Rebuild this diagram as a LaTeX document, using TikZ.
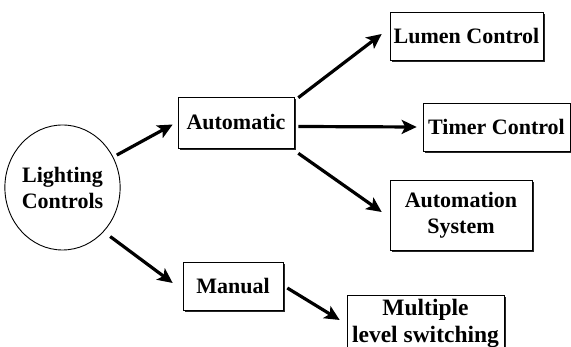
\documentclass[tikz,border=0pt]{standalone}
\usepackage{fontspec}
\setmainfont{Liberation Serif}
\usepackage{tikz}
\usetikzlibrary{arrows.meta,shapes.geometric,shadows}

\begin{document}
\begin{tikzpicture}[x=1pt, y=1pt,
    every node/.style={font=\fontsize{22}{26}\selectfont\bfseries, align=center},
    ctrlbox/.style={draw, rectangle, line width=0.6pt, fill=white, inner sep=2pt,
        drop shadow={shadow xshift=1.6pt, shadow yshift=-1.6pt, fill=black, opacity=0.85}},
    flow/.style={-{Stealth[length=15pt, width=14pt, inset=3.5pt]}, line width=3.2pt}]
                \useasboundingbox (0,0) rectangle (571,347);

                % Root ellipse
                \node[draw, ellipse, line width=0.9pt, minimum width=105pt, minimum height=125pt, inner sep=0pt] (root) at (62.5,159.5) {Lighting\\Controls};

                % Second level
                \node[ctrlbox, minimum width=116pt, minimum height=51pt] (auto) at (236,224.5) {Automatic};
                \node[ctrlbox, minimum width=100pt, minimum height=48pt] (manual) at (233,61) {Manual};

                % Automatic branches
                \node[ctrlbox, minimum width=153pt, minimum height=48pt] (lumen) at (466.5,311) {Lumen Control};
                \node[ctrlbox, minimum width=147pt, minimum height=48pt] (timer) at (496.5,220) {Timer Control};
                \node[ctrlbox, minimum width=142pt, minimum height=70pt] (autosys) at (461,132) {Automation\\System};

                % Manual branch
                \node[ctrlbox, minimum width=157pt, minimum height=56pt, font=\fontsize{23.5}{27}\selectfont\bfseries] (multi) at (425.5,24) {Multiple\\level switching};

                % Arrows
                \draw[flow, shorten <=4pt] (root.31) -- ([xshift=-5pt, yshift=-2pt]auto.west);
                \draw[flow, shorten <=8pt] (root.-47) -- ([xshift=-10pt, yshift=3pt]manual.west);
                \draw[flow] ([xshift=4pt, yshift=-1pt]auto.north east) -- ([xshift=-8pt, yshift=2pt]lumen.west);
                \draw[flow] ([xshift=4pt, yshift=-4pt]auto.east) -- ([xshift=-6pt]timer.west);
                \draw[flow] ([xshift=4pt, yshift=-5pt]auto.south east) -- ([xshift=-8pt, yshift=3pt]autosys.west);
                \draw[flow] ([xshift=4pt, yshift=-2pt]manual.east) -- ([xshift=-7pt, yshift=3pt]multi.west);
            \end{tikzpicture}
\end{document}
